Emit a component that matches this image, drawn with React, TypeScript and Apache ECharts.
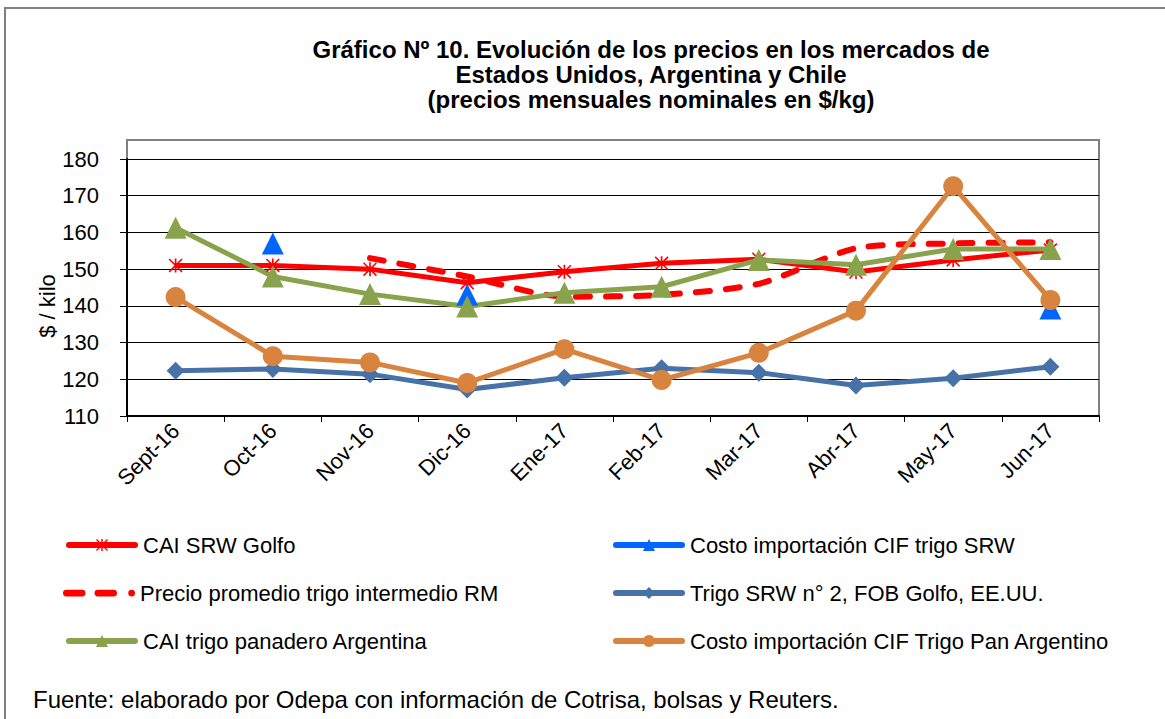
import React, { useEffect, useRef } from "react";
import * as echarts from "echarts";

const categories = ["Sept-16", "Oct-16", "Nov-16", "Dic-16", "Ene-17", "Feb-17", "Mar-17", "Abr-17", "May-17", "Jun-17"];
const caiSrwGolfo = [151, 151, 150, 146.3, 149.3, 151.6, 152.7, 149.2, 152.5, 155.2];
const costoCifSrw = [null, 157, null, 143, null, null, null, null, null, 139.3];
const precioPromedioRM = [null, null, 153, 148, 142.5, 143, 146, 155.7, 157, 157.3];
const trigoSrwFob = [122.3, 122.8, 121.4, 117.2, 120.4, 123, 121.8, 118.3, 120.3, 123.4];
const caiArgentina = [161.3, 148, 143.2, 139.8, 143.6, 145.2, 152.5, 151.2, 155.5, 155.5];
const costoCifPanArg = [142.4, 126.3, 124.6, 119, 128.2, 119.8, 127.2, 138.7, 172.6, 141.6];
const yTicks = { min: 110, max: 180, interval: 10 };

const names = [
  "CAI SRW Golfo",
  "Costo importación CIF trigo SRW",
  "Precio promedio trigo intermedio RM",
  "Trigo SRW n° 2, FOB Golfo, EE.UU.",
  "CAI trigo panadero Argentina",
  "Costo importación CIF Trigo Pan Argentino",
];

const FONT = "'Liberation Sans', Arial, sans-serif";
const ASTERISK =
  "path://M4.4,0 L5.6,0 L5.6,10 L4.4,10 Z M0.8,0 L10,9.2 L9.2,10 L0,0.8 Z M9.2,0 L10,0.8 L0.8,10 L0,9.2 Z";
const DASH_ICON =
  "path://M3,0 L17,0 A3,3 0 0 1 17,6 L3,6 A3,3 0 0 1 3,0 Z M31,0 L45,0 A3,3 0 0 1 45,6 L31,6 A3,3 0 0 1 31,0 Z M61,0 A3,3 0 0 1 61,6 A3,3 0 0 1 61,0 Z";

export default function App() {
  const ref = useRef<HTMLDivElement>(null);
  useEffect(() => {
    if (!ref.current) return;
    const chart = echarts.init(ref.current, null, { renderer: "svg" });
    const legendPos = [
      { left: 66, top: 533 },
      { left: 613, top: 533 },
      { left: 63, top: 581 },
      { left: 613, top: 581 },
      { left: 66, top: 629 },
      { left: 613, top: 629 },
    ];
    chart.setOption({
      animation: false,
      backgroundColor: "#ffffff",
      title: {
        text: "Gráfico Nº 10. Evolución de los precios en los mercados de\nEstados Unidos, Argentina y Chile\n(precios mensuales nominales en $/kg)",
        left: 646,
        top: 32,
        textAlign: "center",
        textStyle: { fontFamily: FONT, fontSize: 24, fontWeight: "bold", color: "#000", lineHeight: 25 },
      },
      legend: legendPos.map((p, i) =>
        i === 2
          ? {
              data: [{ name: names[i], icon: DASH_ICON }],
              left: p.left,
              top: p.top,
              itemWidth: 72,
              itemHeight: 15,
              padding: 0,
              selectedMode: false,
              textStyle: { fontFamily: FONT, fontSize: 22, color: "#000", lineHeight: 24 },
            }
          : {
              data: [names[i]],
              left: p.left,
              top: p.top,
              itemWidth: 66,
              itemHeight: 15,
              padding: 0,
              selectedMode: false,
              lineStyle: { width: 6, cap: "round" },
              textStyle: { fontFamily: FONT, fontSize: 22, color: "#000", lineHeight: 24, padding: [0, 0, 0, 3] },
            }
      ),
      grid: { left: 127, right: 66, top: 159, bottom: 303, containLabel: false },
      xAxis: {
        type: "category",
        data: categories,
        boundaryGap: true,
        axisLine: { show: true, lineStyle: { color: "#000", width: 2 } },
        axisTick: { show: true, length: 6, lineStyle: { color: "#000" } },
        axisLabel: { rotate: 45, fontFamily: FONT, fontSize: 22, color: "#000", margin: 11, interval: 0 },
        splitLine: { show: false },
      },
      yAxis: {
        type: "value",
        min: yTicks.min,
        max: yTicks.max,
        interval: yTicks.interval,
        axisLine: { show: true, lineStyle: { color: "#000", width: 2 } },
        axisTick: { show: true, length: 7, lineStyle: { color: "#000" } },
        axisLabel: { fontFamily: FONT, fontSize: 22, color: "#000", margin: 28 },
        splitLine: { show: true, lineStyle: { color: "#000", width: 1 } },
      },
      graphic: [
        {
          type: "polyline",
          shape: { points: [[5, 740], [5, 8], [1180, 8]] },
          style: { stroke: "#808080", lineWidth: 2, fill: null },
          silent: true,
        },
        {
          type: "rect",
          shape: { x: 127, y: 140, width: 972, height: 276 },
          style: { stroke: "#808080", lineWidth: 2, fill: null },
          silent: true,
          z: -1,
        },
        {
          type: "text",
          x: 47,
          y: 306,
          rotation: Math.PI / 2,
          style: { text: "$ / kilo", fontFamily: FONT, fontSize: 22, fill: "#000", align: "center", verticalAlign: "middle" },
          silent: true,
        },
        {
          type: "text",
          x: 33,
          y: 699,
          style: { text: "Fuente: elaborado por Odepa con información de Cotrisa, bolsas y Reuters.", fontFamily: FONT, fontSize: 24, fill: "#000", verticalAlign: "middle" },
          silent: true,
        },
      ],
      series: [
        {
          name: names[0],
          type: "line",
          data: caiSrwGolfo,
          color: "#FF0000",
          lineStyle: { width: 5, color: "#FF0000" },
          symbol: ASTERISK,
          symbolSize: 14,
          itemStyle: { color: "#FF0000" },
        },
        {
          name: names[1],
          type: "line",
          data: costoCifSrw,
          color: "#0066FF",
          connectNulls: false,
          lineStyle: { width: 5, color: "#0066FF" },
          symbol: "triangle",
          symbolSize: 22,
          itemStyle: { color: "#0066FF" },
        },
        {
          name: names[2],
          type: "line",
          data: precioPromedioRM,
          color: "#FF0000",
          smooth: 0.25,
          showSymbol: false,
          symbol: "none",
          lineStyle: { width: 6, color: "#FF0000", type: [14, 16], cap: "round" },
          itemStyle: { color: "#FF0000" },
        },
        {
          name: names[3],
          type: "line",
          data: trigoSrwFob,
          color: "#4672A8",
          lineStyle: { width: 5, color: "#4672A8" },
          symbol: "diamond",
          symbolSize: 18,
          itemStyle: { color: "#4672A8" },
        },
        {
          name: names[4],
          type: "line",
          data: caiArgentina,
          color: "#88A34C",
          lineStyle: { width: 5, color: "#88A34C" },
          symbol: "triangle",
          symbolSize: 22,
          itemStyle: { color: "#88A34C" },
        },
        {
          name: names[5],
          type: "line",
          data: costoCifPanArg,
          color: "#D9843E",
          lineStyle: { width: 5, color: "#D9843E" },
          symbol: "circle",
          symbolSize: 20,
          itemStyle: { color: "#D9843E" },
        },
      ],
    });
    return () => chart.dispose();
  }, []);
  return (
    <div
      ref={ref}
      style={{ position: "fixed", left: 0, top: 0, width: 1165, height: 719, background: "#fff" }}
    />
  );
}
